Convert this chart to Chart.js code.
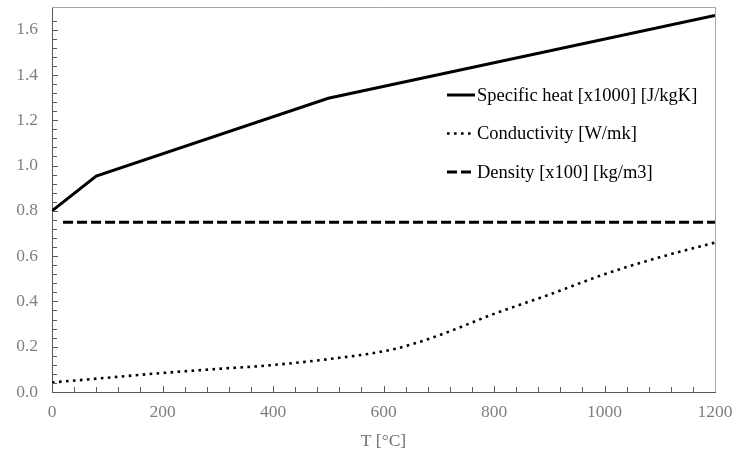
<!DOCTYPE html>
<html>
<head>
<meta charset="utf-8">
<script src="https://cdn.jsdelivr.net/npm/chart.js@4.4.0/dist/chart.umd.min.js"></script>
<style>
  html, body { margin: 0; padding: 0; background: #fff; }
  #wrap { width: 737px; height: 452px; position: relative; }
</style>
</head>
<body>
<div id="wrap"><canvas id="chart" width="737" height="452"></canvas></div>
<script>
// temperature points [°C] and values for each property
const heatTemps = [0, 80, 500, 1200]
const heatValues = [0.8, 0.953, 1.297, 1.663]

const condTemps = [0, 100, 200, 300, 380, 500, 620, 700, 800, 900, 1000, 1100, 1200]
const condValues = [0.042, 0.063, 0.084, 0.102, 0.115, 0.145, 0.19, 0.25, 0.345, 0.43, 0.52, 0.595, 0.66]

const densTemps = [20, 1200]
const densValues = [0.75, 0.75]

const seriesLabels = ['Specific heat [x1000] [J/kgK]', 'Conductivity [W/mk]', 'Density [x100] [kg/m3]']

const xMajor = 200
const yMajor = 0.2

const toPoints = (xs, ys) => xs.map((x, i) => ({ x: x, y: ys[i] }))
const isMultiple = (v, step) => Math.abs(v / step - Math.round(v / step)) < 1e-6

const serif = "'Liberation Serif', 'Times New Roman', serif"

// fixed axis size, no extra room reserved for end labels
const fixSize = (prop, size) => (scale) => {
  scale[prop] = size
  scale.paddingLeft = 0
  scale.paddingRight = 0
  scale.paddingTop = 0
  scale.paddingBottom = 0
}

// inward tick marks plus the top/right frame
const frameTicks = {
  id: 'frameTicks',
  afterDraw(chart) {
    const ctx = chart.ctx
    const a = chart.chartArea
    const xs = chart.scales.x
    const ys = chart.scales.y
    ctx.save()
    ctx.strokeStyle = '#a6a6a6'
    ctx.lineWidth = 1
    ctx.beginPath()
    ctx.moveTo(a.left, a.top + 0.5)
    ctx.lineTo(a.right + 0.5, a.top + 0.5)
    ctx.lineTo(a.right + 0.5, a.bottom)
    ctx.stroke()

    ctx.strokeStyle = '#595959'
    ctx.beginPath()
    xs.ticks.forEach((t) => {
      if (t.value <= 0 || t.value >= 1200) return
      const px = Math.round(xs.getPixelForValue(t.value)) + 0.5
      const len = isMultiple(t.value, xMajor) ? 6 : 5
      ctx.moveTo(px, a.bottom)
      ctx.lineTo(px, a.bottom - len)
    })
    ys.ticks.forEach((t) => {
      if (t.value <= 0 || !isMultiple(t.value, 0.04)) return
      const py = Math.round(ys.getPixelForValue(t.value)) + 0.5
      const len = isMultiple(t.value, yMajor) ? 6 : 5
      ctx.moveTo(a.left, py)
      ctx.lineTo(a.left + len, py)
    })
    ctx.stroke()
    ctx.restore()
  },
}

// legend drawn inside the plot, one entry per row
const innerLegend = {
  id: 'innerLegend',
  afterDraw(chart, args, opts) {
    const ctx = chart.ctx
    ctx.save()
    ctx.font = opts.fontSize + 'px ' + serif
    ctx.fillStyle = '#000'
    ctx.textBaseline = 'middle'
    chart.data.datasets.forEach((ds, i) => {
      const y = opts.top + i * opts.rowGap
      ctx.strokeStyle = ds.borderColor
      ctx.lineWidth = ds.borderWidth
      ctx.setLineDash(ds.borderDash || [])
      ctx.beginPath()
      ctx.moveTo(opts.left, y)
      ctx.lineTo(opts.left + opts.sample, y)
      ctx.stroke()
      ctx.setLineDash([])
      ctx.fillText(ds.label, opts.left + opts.sample + 2, y + 1)
    })
    ctx.restore()
  },
}

new Chart(document.getElementById('chart'), {
  type: 'line',
  data: {
    datasets: [
      {
        label: seriesLabels[0],
        data: toPoints(heatTemps, heatValues),
        borderColor: '#000',
        borderWidth: 3,
        pointRadius: 0,
        tension: 0,
      },
      {
        label: seriesLabels[1],
        data: toPoints(condTemps, condValues),
        borderColor: '#000',
        borderWidth: 2.6,
        borderDash: [2.6, 4.4],
        pointRadius: 0,
        cubicInterpolationMode: 'monotone',
      },
      {
        label: seriesLabels[2],
        data: toPoints(densTemps, densValues),
        borderColor: '#000',
        borderWidth: 3,
        borderDash: [10, 4],
        pointRadius: 0,
      },
    ],
  },
  options: {
    responsive: false,
    animation: false,
    maintainAspectRatio: false,
    layout: { padding: { top: 7, right: 22, left: 0, bottom: 0 } },
    plugins: {
      legend: { display: false },
      tooltip: { enabled: false },
      innerLegend: { left: 447, top: 95, rowGap: 38.5, sample: 28, fontSize: 18.5 },
    },
    scales: {
      x: {
        type: 'linear',
        min: 0,
        max: 1200,
        grid: { display: false, drawTicks: false },
        border: { display: true, color: '#595959', width: 1 },
        ticks: {
          stepSize: 40,
          autoSkip: false,
          maxRotation: 0,
          padding: 10,
          color: '#7f7f7f',
          font: { family: serif, size: 17.5 },
          callback: (v) => (isMultiple(v, xMajor) ? String(Math.round(v)) : ''),
        },
        title: {
          display: true,
          text: 'T [°C]',
          color: '#6e6e6e',
          font: { family: serif, size: 17.5 },
          padding: { top: 0, bottom: 0 },
        },
        afterFit: fixSize('height', 60),
      },
      y: {
        min: 0,
        max: 1.7,
        grid: { display: false, drawTicks: false },
        border: { display: true, color: '#595959', width: 1 },
        ticks: {
          stepSize: 0.04,
          autoSkip: false,
          padding: 14,
          color: '#7f7f7f',
          font: { family: serif, size: 17.5 },
          callback: (v) => (isMultiple(v, yMajor) ? v.toFixed(1) : ''),
        },
        afterFit: fixSize('width', 52),
      },
    },
  },
  plugins: [frameTicks, innerLegend],
})
</script>
</body>
</html>
